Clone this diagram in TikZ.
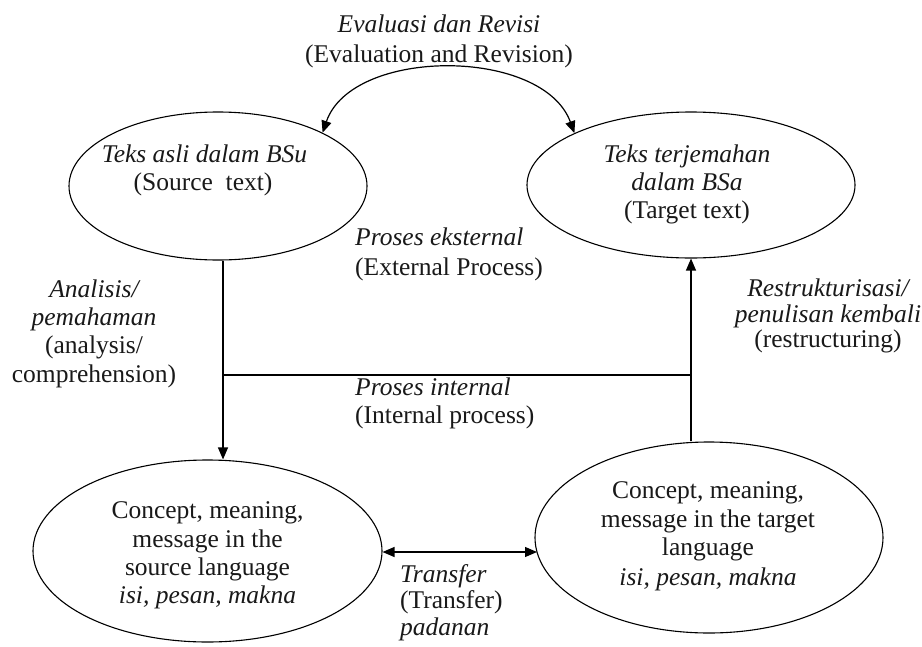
\documentclass[tikz,border=0pt]{standalone}
\usepackage{fontspec}
\setmainfont{Liberation Serif}
\usetikzlibrary{arrows.meta,shapes.geometric}
\begin{document}
\begin{tikzpicture}[x=1pt,y=-1pt,
  txt/.style={anchor=base, inner sep=0pt, font=\fontsize{25.5}{29}\selectfont, text=black!90},
  txtw/.style={txt, anchor=base west},
  it/.style={font=\fontsize{25.5}{29}\selectfont\itshape},
  oval/.style={draw, ellipse, inner sep=0pt, line width=1.1pt},
  conn/.style={line width=1.2pt},
  tip/.style={-{Triangle[length=12pt,width=10pt]}},
  tips/.style={{Triangle[length=12pt,width=10pt]}-{Triangle[length=12pt,width=10pt]}}]
\useasboundingbox[fill=white] (0,0) rectangle (922,646);

% ellipses
\node[oval, minimum width=298pt, minimum height=148pt] (src) at (218,186) {};
\node[oval, minimum width=328pt, minimum height=146pt] (tgt) at (691,185) {};
\node[oval, minimum width=349pt, minimum height=182pt] (bl) at (207.5,551) {};
\node[oval, minimum width=348pt, minimum height=191pt] (br) at (709,537.5) {};

% connectors
\draw[conn, tips] (src.27) .. controls (352,47) and (543,47) .. (tgt.156.7);
\coordinate (hy) at (0,375);
\coordinate (dx) at (223,0);
\draw[conn, tip] (dx |- src.south) -- (dx |- bl.north);
\draw[conn, tip] (tgt.south |- br.north) -- (tgt.south);
\draw[conn] (dx |- hy) -- (tgt.south |- hy);
\draw[conn, tips] (bl.east |- 0,552) -- (537,552) coordinate (brw);

% top label
\node[txt, it] (ev1) at (439,32) {Evaluasi dan Revisi};
\node[txt] (ev2) at (439,62) {(Evaluation and Revision)};

% source text
\node[txt, it] (s1) at (204.5,162) {Teks asli dalam BSu};
\node[txt] (s2) at (203,190) {(Source\ \ text)};

% target text
\node[txt, it] (t1) at (687,162) {Teks terjemahan};
\node[txt, it] (t2) at (687,190) {dalam BSa};
\node[txt] (t3) at (687,218) {(Target text)};

% external / internal
\node[txtw, it] (e1) at (355,245) {Proses eksternal};
\node[txtw] (e2) at (355,275) {(External Process)};
\node[txtw, it] (i1) at (355,395) {Proses internal};
\node[txtw] (i2) at (355,423) {(Internal process)};

% left labels
\node[txt, it] (a1) at (94,297) {Analisis/};
\node[txt, it] (a2) at (94,325) {pemahaman};
\node[txt] (a3) at (94,353) {(analysis/};
\node[txt] (a4) at (94,382) {comprehension)};

% right labels
\node[txt, it] (r1) at (828,296) {Restrukturisasi/};
\node[txt, it] (r2) at (828,322) {penulisan kembali};
\node[txt] (r3) at (828,347) {(restructuring)};

% bottom-left text
\node[txt] (b1) at (207.5,518) {Concept, meaning,};
\node[txt] (b2) at (207.5,547) {message in the};
\node[txt] (b3) at (207.5,575) {source language};
\node[txt, it] (b4) at (207.5,603) {isi, pesan, makna};

% bottom-right text
\node[txt] (c1) at (708,498) {Concept, meaning,};
\node[txt] (c2) at (708,527) {message in the target};
\node[txt] (c3) at (708,555) {language};
\node[txt, it] (c4) at (708,585) {isi, pesan, makna};

% transfer
\node[txtw, it] (f1) at (400,582) {Transfer};
\node[txtw] (f2) at (400,608) {(Transfer)};
\node[txtw, it] (f3) at (400,635) {padanan};
\end{tikzpicture}
\end{document}
